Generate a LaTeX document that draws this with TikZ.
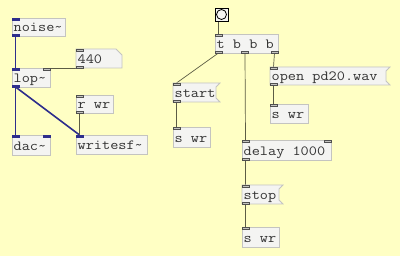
\documentclass[tikz,border=0pt]{standalone}
\usepackage{fontspec}
\newfontfamily\pdfont[FakeStretch=1.13]{Latin Modern Mono}
\usetikzlibrary{calc}
\definecolor{bgc}{HTML}{FFFFC4}
\definecolor{boxf}{HTML}{F4F4F2}
\definecolor{boxd}{HTML}{C4C4C0}
\definecolor{portc}{HTML}{505050}
\definecolor{sigc}{HTML}{2E2E8C}
\definecolor{ctlc}{HTML}{5C5C44}
\tikzset{
  x=1pt, y=-1pt,
  hid/.style={anchor=north west, inner sep=0pt, outer sep=0pt},
  shp/.style={draw=boxd, fill=boxf, line width=0.8pt},
  lbl/.style={anchor=base west, inner sep=0pt, font=\pdfont\fontsize{14}{16}\selectfont, text=black!80},
  port/.style={draw=portc, fill=boxd, line width=0.6pt},
  sport/.style={draw=sigc, fill=sigc, line width=0.6pt},
  ctl/.style={draw=ctlc, line width=0.7pt},
  sig/.style={draw=sigc, line width=1.6pt},
}
\begin{document}
\begin{tikzpicture}
\fill[bgc] (0,0) rectangle (400,256);
\useasboundingbox (0,0) rectangle (400,256);

% left patch nodes
\node[hid, minimum width=53, minimum height=18] (noise) at (12,18) {};
\node[hid, minimum width=46, minimum height=19] (n440) at (76,49) {};
\node[hid, minimum width=38, minimum height=19] (lop) at (12,68) {};
\node[hid, minimum width=37, minimum height=18] (rwr) at (76,95) {};
\node[hid, minimum width=38, minimum height=20] (dac) at (12,135) {};
\node[hid, minimum width=71, minimum height=19] (wsf) at (76,135) {};
% right patch
\node[hid, minimum width=13, minimum height=13] (bng) at (215,8) {};
\node[hid, minimum width=63, minimum height=19] (tbbb) at (215,34) {};
\node[hid, minimum width=47, minimum height=19] (start) at (173,83) {};
\node[hid, minimum width=120, minimum height=18] (open) at (270,67) {};
\node[hid, minimum width=38, minimum height=19] (swra) at (270,104) {};
\node[hid, minimum width=37, minimum height=20] (swrb) at (173,127) {};
\node[hid, minimum width=89, minimum height=20] (delay) at (242,140) {};
\node[hid, minimum width=41, minimum height=19] (stop) at (242,185) {};
\node[hid, minimum width=37, minimum height=20] (swrc) at (242,227) {};

% wires
\draw[sig] ($(noise.south west)+(3.5,0)$) -- ($(lop.north west)+(3.5,0)$);
\draw[sig] ($(lop.south west)+(3.5,0)$) -- ($(dac.north west)+(3.5,0)$);
\draw[sig] ($(lop.south west)+(3.5,0)$) -- ($(wsf.north west)+(3.5,0)$);
\draw[ctl] ($(n440.south west)+(3.5,0)$) -- ($(lop.north east)+(-3.5,0)$);
\draw[ctl] ($(rwr.south west)+(3.5,0)$) -- ($(wsf.north west)+(3.5,0)$);
\draw[ctl] ($(bng.south west)+(3,0)$) -- ($(tbbb.north west)+(3,0)$);
\draw[ctl] ($(tbbb.south west)+(3.5,0)$) -- ($(start.north west)+(3.5,0)$);
\draw[ctl] ($(tbbb.south)+(-1.5,0)$) -- ($(delay.north west)+(3.5,0)$);
\draw[ctl] ($(tbbb.south east)+(-3.5,0)$) -- ($(open.north west)+(3.5,0)$);
\draw[ctl] ($(open.south west)+(3.5,0)$) -- ($(swra.north west)+(3.5,0)$);
\draw[ctl] ($(start.south west)+(3.5,0)$) -- ($(swrb.north west)+(3.5,0)$);
\draw[ctl] ($(delay.south west)+(3.5,0)$) -- ($(stop.north west)+(3.5,0)$);
\draw[ctl] ($(stop.south west)+(3.5,0)$) -- ($(swrc.north west)+(3.5,0)$);

% object boxes
\foreach \n in {noise,lop,rwr,dac,wsf,tbbb,swra,swrb,delay,swrc}{
  \draw[shp] (\n.north west) rectangle (\n.south east);
}
% atom box
\draw[shp] (n440.north west) -- ($(n440.north east)+(-6,0)$) -- ($(n440.north east)+(0,6)$) -- (n440.south east) -- (n440.south west) -- cycle;
% message boxes
\foreach \n in {start,open,stop}{
  \draw[shp] (\n.north west) -- (\n.north east) -- ($(\n.north east)+(-4,4)$) -- ($(\n.south east)+(-4,-4)$) -- (\n.south east) -- (\n.south west) -- cycle;
}
% bang
\draw[draw=black, fill=boxf, line width=0.8pt] (bng.north west) rectangle (bng.south east);
\draw[black, line width=0.8pt] (bng.center) circle (5);

% labels
\node[lbl] (tnoise) at ($(noise.south west)+(1.5,-4.5)$) {noise\char`~};
\node[lbl] (t440) at ($(n440.south west)+(1.5,-4.5)$) {440};
\node[lbl] (tlop) at ($(lop.south west)+(1.5,-4.5)$) {lop\char`~};
\node[lbl] (trwr) at ($(rwr.south west)+(1.5,-4.5)$) {r wr};
\node[lbl] (tdac) at ($(dac.south west)+(1.5,-4.5)$) {dac\char`~};
\node[lbl] (twsf) at ($(wsf.south west)+(1.5,-4.5)$) {writesf\char`~};
\node[lbl] (ttbbb) at ($(tbbb.south west)+(1.5,-4.5)$) {t b b b};
\node[lbl] (tstart) at ($(start.south west)+(1.5,-4.5)$) {start};
\node[lbl] (topen) at ($(open.south west)+(1.5,-4.5)$) {open pd20.wav};
\node[lbl] (tswra) at ($(swra.south west)+(1.5,-4.5)$) {s wr};
\node[lbl] (tswrb) at ($(swrb.south west)+(1.5,-4.5)$) {s wr};
\node[lbl] (tdelay) at ($(delay.south west)+(1.5,-4.5)$) {delay 1000};
\node[lbl] (tstop) at ($(stop.south west)+(1.5,-4.5)$) {stop};
\node[lbl] (tswrc) at ($(swrc.south west)+(1.5,-4.5)$) {s wr};

% ports: inlets (top) and outlets (bottom)
\foreach \n in {n440,rwr,tbbb,start,open,swra,swrb,delay,stop,swrc}{
  \draw[port] (\n.north west) rectangle +(7,2);
}
\foreach \n in {n440,rwr,start,open,delay,stop}{
  \draw[port] (\n.south west) rectangle +(7,-2);
}
\draw[port] (tbbb.south west) rectangle +(7,-2);
\draw[port] ($(tbbb.south)+(-5,0)$) rectangle +(7,-2);
\draw[port] ($(tbbb.south east)+(-7,0)$) rectangle +(7,-2);
\draw[port] ($(delay.north east)+(-7,0)$) rectangle +(7,2);
\draw[port] ($(lop.north east)+(-7,0)$) rectangle +(7,2);
% signal ports
\draw[sport] (noise.north west) rectangle +(7,2);
\draw[sport] (noise.south west) rectangle +(7,-2);
\draw[sport] (lop.north west) rectangle +(7,2);
\draw[sport] (lop.south west) rectangle +(7,-2);
\draw[sport] (dac.north west) rectangle +(7,2);
\draw[sport] ($(dac.north east)+(-7,0)$) rectangle +(7,2);
\draw[sport] (wsf.north west) rectangle +(7,2);
\end{tikzpicture}
\end{document}
